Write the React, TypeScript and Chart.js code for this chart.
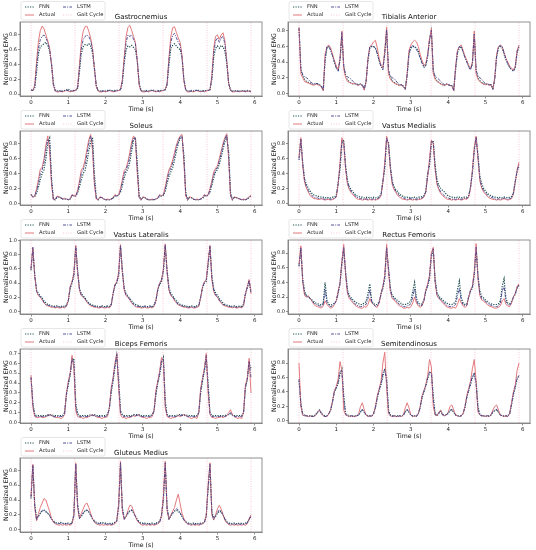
import React, { useEffect, useRef } from "react";
import { Chart, registerables } from "chart.js";

Chart.register(...registerables);
Chart.defaults.font.family = "'DejaVu Sans', sans-serif";

// ---------------- data (sampled every 0.05 s, 0 … 5.9 s) ----------------
const gaitCycleS = [0, 1.18, 2.36, 3.54, 4.72, 5.9];
const xTicks = [0, 1, 2, 3, 4, 5, 6];
const yTicks08 = [0, 0.2, 0.4, 0.6, 0.8];
const yTicks10 = [0, 0.2, 0.4, 0.6, 0.8, 1.0];
const yTicks07 = [0, 0.1, 0.2, 0.3, 0.4, 0.5, 0.6, 0.7];
const seriesLabels = ["FNN", "Actual", "LSTM", "Gait Cycle"];

const gastrocnemiusFnn = [
  .06,.05,.08,.30,.55,.64,.66,.68,.70,.66,.58,.42,.15,.05,.04,.04,.05,.04,.05,.06,
  .07,.05,.04,.05,.05,.08,.30,.55,.64,.67,.66,.68,.65,.55,.35,.12,.05,.04,.04,.05,
  .04,.05,.05,.05,.04,.05,.05,.05,.06,.15,.42,.60,.65,.64,.66,.63,.60,.45,.15,.05,
  .04,.04,.05,.04,.05,.05,.05,.04,.05,.04,.05,.05,.06,.12,.40,.62,.66,.68,.65,.62,
  .60,.50,.20,.06,.04,.04,.05,.04,.05,.05,.05,.04,.05,.04,.05,.05,.06,.20,.50,.62,
  .65,.62,.66,.64,.58,.42,.15,.06,.04,.04,.05,.04,.04,.05,.04,.04,.05,.04,.04];
const gastrocnemiusActual = [
  .05,.05,.12,.45,.72,.86,.92,.88,.80,.72,.62,.40,.12,.04,.03,.03,.04,.03,.04,.05,
  .04,.03,.04,.04,.05,.10,.40,.70,.85,.91,.92,.85,.76,.62,.35,.10,.04,.03,.03,.04,
  .03,.04,.05,.04,.03,.04,.04,.05,.06,.20,.50,.78,.90,.93,.86,.78,.70,.45,.12,.04,
  .03,.03,.04,.03,.04,.05,.04,.03,.04,.03,.04,.05,.06,.15,.50,.78,.90,.91,.83,.76,
  .70,.52,.18,.05,.03,.03,.04,.03,.04,.05,.04,.03,.04,.03,.04,.05,.06,.25,.62,.78,
  .80,.74,.80,.83,.72,.45,.15,.05,.03,.03,.04,.04,.03,.04,.04,.03,.04,.04,.03];
const gastrocnemiusLstm = [
  .05,.05,.10,.38,.62,.74,.78,.80,.76,.70,.60,.40,.13,.05,.04,.04,.04,.04,.05,.05,
  .05,.04,.04,.05,.05,.09,.35,.62,.74,.78,.80,.78,.72,.60,.36,.11,.05,.04,.04,.04,
  .04,.04,.05,.05,.04,.04,.05,.05,.06,.18,.46,.70,.80,.78,.80,.74,.68,.45,.14,.05,
  .04,.04,.04,.04,.05,.05,.04,.04,.04,.04,.05,.05,.06,.14,.46,.70,.80,.82,.76,.70,
  .66,.50,.19,.06,.04,.04,.04,.04,.05,.05,.04,.04,.04,.04,.05,.05,.06,.22,.56,.72,
  .76,.70,.76,.78,.68,.44,.15,.05,.04,.04,.04,.04,.04,.04,.04,.04,.04,.04,.04];

const tibialisFnn = [
  .82,.30,.22,.18,.15,.14,.13,.12,.11,.12,.12,.11,.09,.05,.42,.58,.60,.56,.48,.40,
  .33,.30,.42,.75,.35,.22,.17,.15,.13,.12,.12,.11,.11,.12,.10,.06,.15,.42,.58,.60,
  .60,.58,.52,.42,.35,.32,.50,.80,.28,.20,.16,.14,.12,.11,.10,.11,.09,.06,.22,.50,
  .58,.60,.60,.58,.54,.46,.40,.35,.36,.48,.68,.80,.28,.20,.16,.14,.12,.11,.10,.12,
  .11,.10,.10,.05,.30,.52,.58,.60,.54,.47,.41,.35,.31,.38,.75,.28,.20,.16,.14,.12,
  .11,.12,.11,.11,.06,.18,.46,.58,.60,.58,.50,.43,.38,.33,.31,.29,.33,.52,.60];
const tibialisActual = [
  .85,.25,.20,.15,.14,.13,.12,.11,.10,.12,.11,.10,.08,.03,.50,.60,.62,.58,.50,.42,
  .35,.30,.45,.80,.32,.20,.15,.14,.13,.12,.13,.11,.10,.12,.10,.04,.15,.45,.60,.62,
  .66,.68,.58,.45,.36,.33,.55,.85,.25,.18,.15,.13,.12,.11,.10,.11,.08,.05,.25,.55,
  .62,.66,.68,.66,.60,.50,.42,.36,.38,.50,.70,.83,.25,.18,.15,.14,.12,.11,.10,.12,
  .11,.10,.09,.03,.35,.55,.60,.62,.55,.48,.42,.36,.32,.40,.80,.25,.18,.15,.13,.12,
  .11,.12,.10,.11,.05,.20,.50,.60,.62,.60,.52,.45,.40,.35,.32,.30,.35,.55,.62];
const tibialisLstm = [
  .84,.32,.24,.21,.20,.18,.15,.13,.12,.13,.12,.11,.09,.04,.45,.60,.60,.55,.48,.40,
  .32,.28,.44,.78,.34,.24,.21,.20,.18,.15,.13,.12,.11,.12,.11,.05,.16,.44,.60,.61,
  .60,.58,.50,.42,.34,.30,.52,.82,.30,.22,.20,.19,.16,.13,.11,.11,.09,.05,.24,.52,
  .60,.61,.60,.56,.52,.45,.38,.33,.35,.48,.68,.81,.30,.22,.20,.18,.15,.13,.11,.12,
  .11,.10,.10,.04,.32,.54,.60,.60,.53,.46,.40,.34,.30,.38,.76,.30,.22,.20,.18,.15,
  .12,.12,.11,.11,.05,.19,.48,.60,.61,.60,.52,.44,.38,.33,.30,.28,.33,.54,.61];

const soleusFnn = [
  .12,.09,.09,.14,.22,.32,.40,.45,.60,.80,.87,.35,.06,.05,.08,.09,.08,.06,.06,.06,
  .05,.06,.10,.11,.10,.14,.22,.32,.40,.44,.55,.70,.82,.88,.40,.08,.05,.08,.08,.06,
  .05,.05,.05,.06,.07,.10,.10,.11,.15,.24,.34,.42,.46,.55,.70,.84,.88,.55,.10,.05,
  .08,.08,.06,.05,.05,.05,.05,.06,.07,.10,.10,.11,.16,.27,.36,.42,.48,.58,.70,.80,
  .87,.88,.65,.15,.05,.08,.08,.06,.05,.05,.05,.06,.07,.10,.10,.11,.15,.24,.34,.42,
  .45,.52,.62,.72,.82,.88,.70,.15,.05,.08,.08,.07,.06,.05,.05,.05,.06,.08,.10];
const soleusActual = [
  .12,.08,.10,.20,.32,.46,.48,.60,.78,.90,.70,.25,.05,.06,.10,.09,.07,.06,.07,.06,
  .05,.06,.12,.10,.10,.18,.30,.45,.48,.58,.72,.85,.92,.70,.25,.06,.05,.09,.08,.06,
  .05,.06,.05,.06,.08,.12,.10,.12,.20,.32,.44,.47,.56,.68,.82,.90,.85,.40,.08,.05,
  .09,.08,.06,.05,.05,.06,.05,.06,.08,.12,.10,.12,.22,.35,.45,.50,.58,.68,.78,.85,
  .90,.92,.55,.10,.05,.09,.08,.06,.05,.06,.05,.06,.08,.12,.10,.12,.20,.30,.42,.47,
  .50,.60,.70,.80,.88,.93,.60,.10,.05,.09,.08,.07,.06,.05,.06,.05,.07,.09,.11];
const soleusLstm = [
  .12,.09,.10,.17,.27,.40,.45,.55,.72,.86,.80,.30,.05,.05,.09,.09,.07,.06,.06,.06,
  .05,.06,.11,.10,.10,.16,.26,.40,.45,.52,.66,.80,.90,.80,.30,.07,.05,.08,.08,.06,
  .05,.05,.05,.06,.07,.11,.10,.11,.17,.28,.40,.45,.52,.62,.78,.88,.86,.45,.09,.05,
  .08,.08,.06,.05,.05,.05,.05,.06,.07,.11,.10,.11,.19,.31,.42,.47,.54,.64,.75,.83,
  .89,.90,.60,.12,.05,.08,.08,.06,.05,.05,.05,.06,.07,.11,.10,.11,.18,.27,.38,.45,
  .48,.57,.66,.77,.86,.91,.65,.12,.05,.08,.08,.07,.06,.05,.05,.05,.06,.08,.10];

const vastusMedialisFnn = [
  .58,.85,.55,.32,.25,.20,.16,.13,.11,.10,.09,.09,.08,.08,.07,.08,.07,.07,.08,.08,
  .10,.28,.45,.80,.85,.50,.30,.22,.18,.15,.12,.10,.09,.08,.08,.07,.08,.07,.08,.07,
  .08,.07,.08,.08,.12,.30,.45,.85,.82,.50,.30,.22,.18,.15,.12,.10,.09,.08,.08,.07,
  .08,.07,.08,.07,.08,.08,.09,.10,.16,.40,.50,.80,.84,.52,.32,.24,.20,.17,.15,.12,
  .10,.09,.08,.08,.07,.08,.08,.07,.08,.08,.08,.10,.22,.40,.70,.88,.65,.36,.26,.20,
  .16,.13,.11,.10,.09,.08,.08,.07,.08,.07,.08,.08,.07,.08,.09,.14,.30,.42,.50];
const vastusMedialisActual = [
  .62,.88,.50,.28,.20,.15,.10,.08,.06,.06,.05,.05,.06,.05,.04,.05,.05,.04,.05,.06,
  .08,.25,.55,.88,.80,.45,.25,.18,.14,.11,.08,.06,.05,.05,.04,.05,.05,.04,.05,.04,
  .05,.04,.05,.06,.10,.28,.55,.90,.78,.45,.25,.18,.14,.10,.08,.06,.05,.05,.04,.05,
  .05,.04,.05,.04,.05,.05,.06,.08,.15,.35,.60,.85,.80,.45,.25,.18,.13,.10,.08,.06,
  .05,.05,.04,.05,.04,.05,.05,.04,.05,.06,.05,.08,.20,.45,.75,.90,.60,.30,.20,.15,
  .12,.09,.07,.06,.05,.05,.04,.05,.04,.05,.06,.05,.04,.05,.06,.12,.28,.45,.55];
const vastusMedialisLstm = [
  .60,.86,.52,.30,.22,.17,.13,.10,.08,.07,.07,.06,.06,.06,.05,.06,.06,.05,.06,.06,
  .09,.26,.50,.84,.82,.48,.28,.20,.16,.13,.10,.08,.07,.06,.06,.05,.06,.05,.06,.05,
  .06,.05,.06,.07,.11,.29,.50,.88,.80,.48,.28,.20,.16,.12,.10,.08,.07,.06,.05,.06,
  .06,.05,.06,.05,.06,.06,.07,.09,.15,.37,.55,.83,.82,.48,.28,.20,.15,.12,.10,.08,
  .07,.06,.05,.06,.05,.06,.06,.05,.06,.07,.06,.09,.21,.42,.72,.89,.62,.33,.22,.17,
  .14,.11,.09,.08,.07,.06,.05,.06,.05,.06,.07,.06,.05,.06,.07,.13,.29,.44,.52];

const vastusLateralisFnn = [
  .58,.88,.52,.30,.25,.22,.19,.15,.12,.10,.09,.08,.08,.07,.08,.07,.07,.08,.07,.09,
  .15,.32,.40,.50,.90,.58,.32,.25,.22,.19,.15,.12,.10,.09,.08,.08,.07,.07,.08,.07,
  .07,.08,.07,.10,.24,.36,.40,.50,.92,.58,.33,.25,.22,.18,.15,.12,.10,.09,.08,.07,
  .07,.08,.07,.07,.08,.07,.09,.16,.30,.38,.42,.55,.92,.58,.33,.26,.22,.18,.15,.12,
  .10,.09,.08,.08,.07,.07,.08,.07,.07,.08,.09,.20,.33,.40,.42,.65,.90,.50,.32,.26,
  .23,.18,.15,.12,.10,.09,.08,.08,.07,.08,.07,.07,.08,.07,.10,.24,.33,.42,.28];
const vastusLateralisActual = [
  .60,.90,.50,.28,.22,.20,.16,.12,.09,.08,.07,.06,.06,.05,.06,.05,.05,.06,.05,.07,
  .15,.35,.42,.55,.93,.55,.30,.22,.20,.17,.13,.10,.08,.07,.06,.06,.05,.05,.06,.05,
  .05,.06,.05,.08,.25,.38,.42,.55,.94,.55,.30,.22,.20,.16,.12,.09,.07,.06,.06,.05,
  .05,.06,.05,.05,.06,.05,.07,.15,.32,.40,.45,.60,.95,.55,.30,.22,.20,.15,.12,.09,
  .08,.07,.06,.06,.05,.05,.06,.05,.05,.06,.07,.20,.35,.42,.45,.70,.93,.45,.28,.22,
  .20,.15,.12,.09,.08,.07,.06,.06,.05,.06,.05,.05,.06,.05,.08,.25,.35,.45,.25];
const vastusLateralisLstm = [
  .60,.90,.50,.29,.23,.21,.17,.13,.10,.09,.08,.07,.07,.06,.07,.06,.06,.07,.06,.08,
  .15,.34,.41,.52,.92,.56,.31,.23,.21,.18,.14,.11,.09,.08,.07,.07,.06,.06,.07,.06,
  .06,.07,.06,.09,.25,.37,.41,.52,.93,.56,.31,.23,.21,.17,.13,.10,.08,.07,.07,.06,
  .06,.07,.06,.06,.07,.06,.08,.15,.31,.39,.44,.58,.94,.56,.31,.23,.21,.16,.13,.10,
  .09,.08,.07,.07,.06,.06,.07,.06,.06,.07,.08,.20,.34,.41,.44,.68,.92,.47,.30,.23,
  .21,.16,.13,.10,.09,.08,.07,.07,.06,.07,.06,.06,.07,.06,.09,.25,.34,.44,.26];

const rectusFemorisFnn = [
  .62,.85,.45,.28,.22,.20,.18,.16,.14,.12,.11,.10,.09,.12,.40,.15,.10,.09,.10,.12,
  .15,.25,.38,.65,.85,.55,.30,.22,.19,.16,.14,.12,.11,.10,.10,.12,.14,.25,.38,.15,
  .11,.10,.10,.14,.24,.32,.45,.85,.60,.32,.22,.20,.17,.15,.13,.11,.10,.10,.11,.12,
  .15,.28,.40,.18,.12,.10,.11,.16,.28,.35,.45,.75,.85,.45,.26,.21,.19,.16,.14,.12,
  .11,.10,.10,.11,.15,.30,.42,.20,.12,.10,.11,.20,.28,.32,.50,.85,.50,.28,.21,.19,
  .16,.14,.12,.11,.10,.10,.10,.11,.15,.35,.45,.18,.12,.11,.14,.20,.24,.32,.36];
const rectusFemorisActual = [
  .65,.90,.40,.22,.20,.22,.18,.14,.10,.08,.07,.06,.05,.08,.15,.10,.07,.05,.06,.10,
  .15,.28,.40,.70,.92,.50,.25,.18,.15,.12,.09,.07,.06,.05,.05,.07,.06,.10,.18,.12,
  .10,.07,.06,.12,.25,.35,.50,.92,.55,.28,.18,.16,.13,.10,.08,.07,.05,.05,.06,.05,
  .07,.12,.20,.12,.08,.06,.08,.15,.30,.38,.50,.80,.88,.40,.22,.18,.16,.12,.10,.07,
  .06,.05,.05,.06,.05,.10,.18,.12,.08,.06,.08,.20,.30,.35,.55,.93,.45,.22,.16,.15,
  .12,.10,.08,.07,.06,.05,.05,.06,.08,.15,.18,.10,.08,.07,.12,.20,.25,.35,.38];
const rectusFemorisLstm = [
  .63,.88,.42,.25,.21,.21,.18,.15,.12,.10,.09,.08,.07,.10,.30,.13,.09,.07,.08,.11,
  .15,.27,.39,.68,.88,.52,.27,.20,.17,.14,.11,.09,.08,.07,.07,.09,.10,.18,.30,.13,
  .10,.08,.08,.13,.25,.34,.48,.88,.58,.30,.20,.18,.15,.12,.10,.09,.07,.07,.08,.09,
  .11,.20,.32,.15,.10,.08,.09,.15,.29,.36,.48,.78,.86,.42,.24,.19,.17,.14,.12,.09,
  .08,.07,.07,.08,.10,.22,.32,.16,.10,.08,.09,.20,.29,.34,.52,.88,.48,.25,.18,.17,
  .14,.12,.10,.09,.08,.07,.07,.08,.12,.28,.35,.14,.10,.09,.13,.20,.25,.33,.37];

const bicepsFemorisFnn = [
  .45,.20,.08,.07,.07,.07,.07,.07,.07,.08,.08,.08,.07,.07,.07,.07,.07,.07,.10,.28,
  .38,.48,.62,.65,.20,.09,.07,.07,.07,.07,.07,.07,.08,.08,.08,.07,.07,.07,.07,.07,
  .07,.08,.14,.30,.42,.55,.68,.45,.12,.08,.07,.07,.07,.07,.07,.08,.08,.08,.08,.07,
  .07,.07,.07,.07,.07,.08,.12,.28,.40,.48,.60,.66,.22,.08,.07,.07,.07,.07,.07,.08,
  .08,.08,.08,.08,.07,.07,.07,.07,.07,.07,.10,.30,.42,.52,.65,.40,.10,.07,.07,.07,
  .07,.07,.07,.07,.07,.08,.08,.09,.08,.07,.07,.07,.07,.07,.10,.35,.43,.60,.55];
const bicepsFemorisActual = [
  .48,.15,.06,.05,.05,.06,.05,.05,.06,.07,.08,.07,.06,.05,.05,.05,.04,.05,.08,.30,
  .42,.50,.68,.55,.12,.06,.05,.05,.04,.05,.05,.06,.07,.08,.07,.06,.05,.05,.04,.05,
  .05,.06,.15,.35,.45,.60,.70,.35,.08,.05,.05,.04,.05,.05,.06,.07,.06,.08,.07,.06,
  .05,.05,.04,.05,.05,.06,.12,.33,.42,.52,.66,.62,.15,.06,.05,.04,.05,.05,.06,.07,
  .06,.07,.08,.07,.06,.05,.04,.05,.05,.04,.10,.35,.45,.55,.70,.30,.08,.05,.05,.04,
  .05,.05,.06,.05,.06,.07,.10,.13,.08,.06,.05,.04,.05,.04,.10,.38,.45,.65,.30];
const bicepsFemorisLstm = [
  .46,.18,.07,.06,.06,.06,.06,.06,.06,.07,.07,.07,.06,.06,.06,.06,.06,.06,.09,.29,
  .40,.49,.65,.60,.16,.08,.06,.06,.06,.06,.06,.06,.07,.07,.07,.06,.06,.06,.06,.06,
  .06,.07,.14,.32,.44,.58,.69,.40,.10,.07,.06,.06,.06,.06,.06,.07,.07,.07,.07,.06,
  .06,.06,.06,.06,.06,.07,.12,.30,.41,.50,.63,.65,.18,.07,.06,.06,.06,.06,.06,.07,
  .07,.07,.07,.07,.06,.06,.06,.06,.06,.06,.10,.32,.44,.54,.68,.35,.09,.06,.06,.06,
  .06,.06,.06,.06,.06,.07,.08,.10,.07,.06,.06,.06,.06,.06,.10,.36,.44,.62,.45];

const semitendinosusFnn = [
  .55,.25,.09,.08,.07,.07,.07,.07,.07,.09,.12,.15,.11,.08,.07,.07,.10,.15,.26,.40,
  .45,.52,.65,.72,.35,.10,.08,.07,.07,.07,.07,.07,.08,.12,.15,.12,.08,.07,.07,.07,
  .10,.18,.32,.42,.50,.62,.72,.60,.15,.08,.07,.07,.07,.07,.07,.07,.08,.12,.15,.12,
  .08,.07,.07,.07,.10,.18,.32,.40,.48,.58,.66,.68,.35,.10,.07,.10,.14,.09,.08,.08,
  .10,.14,.15,.12,.08,.07,.07,.07,.10,.18,.32,.42,.50,.60,.65,.55,.20,.09,.07,.07,
  .07,.07,.07,.08,.12,.14,.15,.12,.08,.07,.07,.07,.07,.10,.22,.36,.46,.58,.62];
const semitendinosusActual = [
  .80,.20,.08,.07,.07,.06,.07,.06,.06,.08,.12,.15,.10,.07,.06,.06,.10,.16,.28,.42,
  .48,.58,.82,.70,.15,.08,.07,.06,.07,.06,.06,.07,.10,.20,.25,.15,.08,.06,.07,.06,
  .10,.20,.35,.45,.55,.80,.95,.45,.10,.07,.06,.07,.06,.06,.07,.06,.08,.18,.25,.18,
  .08,.06,.07,.06,.10,.20,.35,.42,.50,.62,.85,.75,.20,.08,.07,.12,.15,.08,.07,.08,
  .12,.20,.22,.15,.08,.07,.06,.07,.10,.20,.35,.45,.55,.72,.85,.55,.12,.08,.07,.07,
  .06,.07,.06,.08,.15,.20,.22,.15,.08,.07,.06,.07,.06,.10,.25,.40,.50,.70,.80];
const semitendinosusLstm = [
  .58,.22,.08,.07,.07,.06,.07,.06,.06,.08,.12,.15,.10,.07,.06,.06,.10,.15,.27,.41,
  .46,.54,.68,.70,.30,.09,.07,.06,.07,.06,.06,.07,.08,.13,.16,.12,.08,.06,.07,.06,
  .10,.19,.33,.43,.52,.66,.72,.55,.13,.07,.06,.07,.06,.06,.07,.06,.08,.13,.16,.12,
  .08,.06,.07,.06,.10,.19,.33,.41,.49,.60,.68,.66,.30,.09,.07,.11,.14,.08,.07,.08,
  .11,.15,.16,.12,.08,.07,.06,.07,.10,.19,.33,.43,.52,.62,.66,.50,.16,.08,.07,.07,
  .06,.07,.06,.08,.13,.15,.16,.12,.08,.07,.06,.07,.06,.10,.23,.38,.48,.60,.63];

const gluteusMediusFnn = [
  .42,.85,.35,.15,.18,.22,.25,.26,.24,.22,.20,.15,.12,.10,.09,.09,.10,.09,.08,.09,
  .09,.08,.10,.20,.88,.35,.16,.18,.22,.25,.26,.24,.20,.15,.12,.10,.09,.09,.10,.09,
  .09,.08,.09,.08,.09,.10,.12,.30,.88,.30,.15,.18,.22,.25,.26,.23,.18,.14,.11,.09,
  .09,.09,.08,.09,.08,.09,.08,.09,.10,.11,.18,.40,.88,.30,.15,.18,.22,.25,.26,.25,
  .22,.18,.14,.11,.09,.09,.08,.09,.08,.09,.08,.09,.09,.10,.18,.55,.86,.25,.15,.18,
  .22,.25,.24,.20,.15,.11,.09,.09,.08,.09,.08,.09,.08,.09,.08,.09,.10,.14,.18];
const gluteusMediusActual = [
  .45,.88,.30,.12,.22,.30,.36,.42,.40,.32,.25,.15,.10,.08,.07,.06,.07,.06,.07,.06,
  .07,.06,.08,.20,.90,.30,.15,.22,.28,.34,.36,.30,.22,.15,.10,.08,.07,.06,.07,.06,
  .07,.06,.07,.06,.07,.08,.12,.35,.92,.25,.14,.18,.26,.33,.32,.25,.18,.12,.09,.07,
  .06,.07,.06,.07,.06,.07,.06,.07,.08,.10,.20,.45,.92,.25,.14,.20,.25,.30,.40,.48,
  .35,.22,.15,.10,.08,.07,.06,.07,.06,.07,.06,.07,.08,.10,.20,.60,.90,.20,.13,.20,
  .28,.33,.28,.20,.13,.09,.07,.06,.07,.06,.07,.06,.07,.06,.07,.06,.08,.15,.20];
const gluteusMediusLstm = [
  .44,.87,.32,.13,.19,.23,.26,.27,.25,.22,.19,.14,.11,.09,.08,.08,.09,.08,.08,.08,
  .08,.07,.09,.19,.89,.32,.15,.19,.23,.26,.27,.24,.20,.14,.11,.09,.08,.08,.09,.08,
  .08,.07,.08,.07,.08,.09,.12,.32,.90,.28,.14,.18,.23,.26,.27,.23,.18,.13,.10,.08,
  .08,.08,.07,.08,.07,.08,.07,.08,.09,.10,.19,.42,.90,.28,.14,.19,.23,.26,.28,.27,
  .23,.18,.13,.10,.08,.08,.07,.08,.07,.08,.07,.08,.08,.10,.19,.58,.88,.22,.14,.19,
  .23,.27,.25,.20,.14,.10,.08,.08,.07,.08,.07,.08,.07,.08,.07,.08,.09,.14,.19];

// sample grid (s): 0.05 s spacing
const timeS = gastrocnemiusActual.map((_, i) => Math.round(i * 5) / 100);

type PanelSpec = {
  title: string; fnn: number[]; actual: number[]; lstm: number[];
  yMin: number; yMax: number; yTicks: number[]; col: number; row: number;
};

const panels: PanelSpec[] = [
  { title: "Gastrocnemius", fnn: gastrocnemiusFnn, actual: gastrocnemiusActual, lstm: gastrocnemiusLstm, yMin: -0.025, yMax: 0.975, yTicks: yTicks08, col: 0, row: 0 },
  { title: "Tibialis Anterior", fnn: tibialisFnn, actual: tibialisActual, lstm: tibialisLstm, yMin: -0.035, yMax: 0.915, yTicks: yTicks08, col: 1, row: 0 },
  { title: "Soleus", fnn: soleusFnn, actual: soleusActual, lstm: soleusLstm, yMin: -0.02, yMax: 0.965, yTicks: yTicks08, col: 0, row: 1 },
  { title: "Vastus Medialis", fnn: vastusMedialisFnn, actual: vastusMedialisActual, lstm: vastusMedialisLstm, yMin: -0.025, yMax: 0.97, yTicks: yTicks08, col: 1, row: 1 },
  { title: "Vastus Lateralis", fnn: vastusLateralisFnn, actual: vastusLateralisActual, lstm: vastusLateralisLstm, yMin: -0.035, yMax: 1.005, yTicks: yTicks10, col: 0, row: 2 },
  { title: "Rectus Femoris", fnn: rectusFemorisFnn, actual: rectusFemorisActual, lstm: rectusFemorisLstm, yMin: -0.03, yMax: 0.98, yTicks: yTicks08, col: 1, row: 2 },
  { title: "Biceps Femoris", fnn: bicepsFemorisFnn, actual: bicepsFemorisActual, lstm: bicepsFemorisLstm, yMin: -0.005, yMax: 0.745, yTicks: yTicks07, col: 0, row: 3 },
  { title: "Semitendinosus", fnn: semitendinosusFnn, actual: semitendinosusActual, lstm: semitendinosusLstm, yMin: -0.03, yMax: 0.995, yTicks: yTicks08, col: 1, row: 3 },
  { title: "Gluteus Medius", fnn: gluteusMediusFnn, actual: gluteusMediusActual, lstm: gluteusMediusLstm, yMin: -0.03, yMax: 0.965, yTicks: yTicks08, col: 0, row: 4 },
];

// ---------------- styling / layout ----------------
const FONT = "'DejaVu Sans', sans-serif";
const COL_W = 268;
const HEAD_H = 23;   // title band above plot frame
const PLOT_H = 74;   // plot frame height
const XAX_H = 17;    // x axis band below plot frame
const CANVAS_H = HEAD_H + PLOT_H + XAX_H;
const FRAME_TOPS = [22, 131, 240, 349, 458];
const FNN_COLOR = "#1d4f4f";
const ACTUAL_COLOR = "#e3797c";
const LSTM_COLOR = "#3e3e8c";
const GAIT_COLOR = "rgba(236,140,165,0.6)";

const framePlugin = {
  id: "mplFrame",
  afterDatasetsDraw(chart: any) {
    const { ctx, chartArea: a } = chart;
    ctx.save();
    ctx.strokeStyle = "#777";
    ctx.lineWidth = 0.8;
    ctx.setLineDash([]);
    ctx.strokeRect(a.left, a.top, a.right - a.left, a.bottom - a.top);
    ctx.restore();
  },
};

const legendPlugin = {
  id: "mplLegend",
  afterDraw(chart: any) {
    const { ctx, chartArea: a } = chart;
    const L = a.left, T = a.top;
    ctx.save();
    ctx.fillStyle = "rgba(255,255,255,0.85)";
    ctx.strokeStyle = "#d6d6d6";
    ctx.lineWidth = 0.6;
    ctx.setLineDash([]);
    ctx.beginPath();
    ctx.roundRect(L + 1, T - 20.5, 84, 18.5, 2);
    ctx.fill();
    ctx.stroke();
    chart.data.datasets.forEach((d: any, i: number) => {
      const col = Math.floor(i / 2), row = i % 2;
      const x0 = L + 5 + col * 38, y = T - 15 + row * 8;
      ctx.strokeStyle = d.borderColor;
      ctx.lineWidth = d.borderWidth;
      ctx.setLineDash(d.borderDash || []);
      ctx.beginPath();
      ctx.moveTo(x0, y);
      ctx.lineTo(x0 + 9, y);
      ctx.stroke();
      ctx.setLineDash([]);
      ctx.fillStyle = "#222";
      ctx.font = `5.2px ${FONT}`;
      ctx.textBaseline = "middle";
      ctx.textAlign = "left";
      ctx.fillText(d.label, x0 + 14, y);
    });
    ctx.restore();
  },
};

function Panel({ spec }: { spec: PanelSpec }) {
  const ref = useRef<HTMLCanvasElement>(null);
  useEffect(() => {
    const pts = (arr: number[]) => timeS.map((t, i) => ({ x: t, y: arr[i] }));
    const gait = gaitCycleS.flatMap((t) => [
      { x: t, y: spec.yMin }, { x: t, y: spec.yMax }, { x: t, y: null as any },
    ]);
    const chart = new Chart(ref.current!, {
      type: "line",
      data: {
        datasets: [
          { label: seriesLabels[0], data: pts(spec.fnn), borderColor: FNN_COLOR, borderWidth: 1.2, borderDash: [1.2, 1.3], pointRadius: 0, order: 3 },
          { label: seriesLabels[1], data: pts(spec.actual), borderColor: ACTUAL_COLOR, borderWidth: 1, pointRadius: 0, order: 2 },
          { label: seriesLabels[2], data: pts(spec.lstm), borderColor: LSTM_COLOR, borderWidth: 0.9, borderDash: [3, 1.2, 1, 1.2], pointRadius: 0, order: 1 },
          { label: seriesLabels[3], data: gait, borderColor: GAIT_COLOR, borderWidth: 0.8, borderDash: [1, 1.5], pointRadius: 0, spanGaps: false, order: 0 },
        ] as any,
      },
      options: {
        animation: false,
        responsive: false,
        devicePixelRatio: 1,
        layout: { padding: { left: 0, right: 6, top: 0, bottom: 0 } },
        plugins: {
          legend: { display: false },
          tooltip: { enabled: false },
          title: {
            display: true, text: spec.title, fullSize: false, color: "#111",
            font: { family: FONT, size: 7, weight: "normal", lineHeight: 1 },
            padding: { top: 14.5, bottom: 1.5 },
          },
        },
        scales: {
          x: {
            type: "linear", min: -0.295, max: 6.195,
            afterBuildTicks: (s: any) => { s.ticks = xTicks.map((v) => ({ value: v })); },
            afterFit: (s: any) => { s.height = XAX_H; },
            ticks: { font: { family: FONT, size: 5.5 }, color: "#222", padding: 1.2, autoSkip: false, maxRotation: 0, callback: (v: any) => String(v) },
            grid: { drawOnChartArea: false, drawTicks: true, tickLength: 2.5, color: "#444", lineWidth: 0.6 },
            border: { display: true, color: "#777", width: 0.8 },
            title: { display: true, text: "Time (s)", color: "#111", font: { family: FONT, size: 6.2 }, padding: { top: 0, bottom: 0 } },
          },
          y: {
            type: "linear", min: spec.yMin, max: spec.yMax,
            afterBuildTicks: (s: any) => { s.ticks = spec.yTicks.map((v) => ({ value: v })); },
            afterFit: (s: any) => { s.width = 20; },
            ticks: { font: { family: FONT, size: 5 }, color: "#222", padding: 1, autoSkip: false, callback: (v: any) => Number(v).toFixed(1) },
            grid: { drawOnChartArea: false, drawTicks: true, tickLength: 2, color: "#444", lineWidth: 0.6 },
            border: { display: true, color: "#777", width: 0.8 },
            title: { display: true, text: "Normalized EMG", color: "#111", font: { family: FONT, size: 6.3 }, padding: { top: 2.5, bottom: 0 } },
          },
        },
      },
      plugins: [framePlugin, legendPlugin],
    });
    return () => chart.destroy();
  }, [spec]);
  return (
    <canvas
      ref={ref}
      width={COL_W}
      height={CANVAS_H}
      style={{ position: "absolute", left: spec.col * COL_W, top: FRAME_TOPS[spec.row] - HEAD_H, width: COL_W, height: CANVAS_H, display: "block" }}
    />
  );
}

export default function App() {
  return (
    <div style={{ position: "absolute", left: 0, top: 0, width: 536, height: 550, background: "#fff", overflow: "hidden" }}>
      {panels.map((p) => <Panel key={p.title} spec={p} />)}
    </div>
  );
}
